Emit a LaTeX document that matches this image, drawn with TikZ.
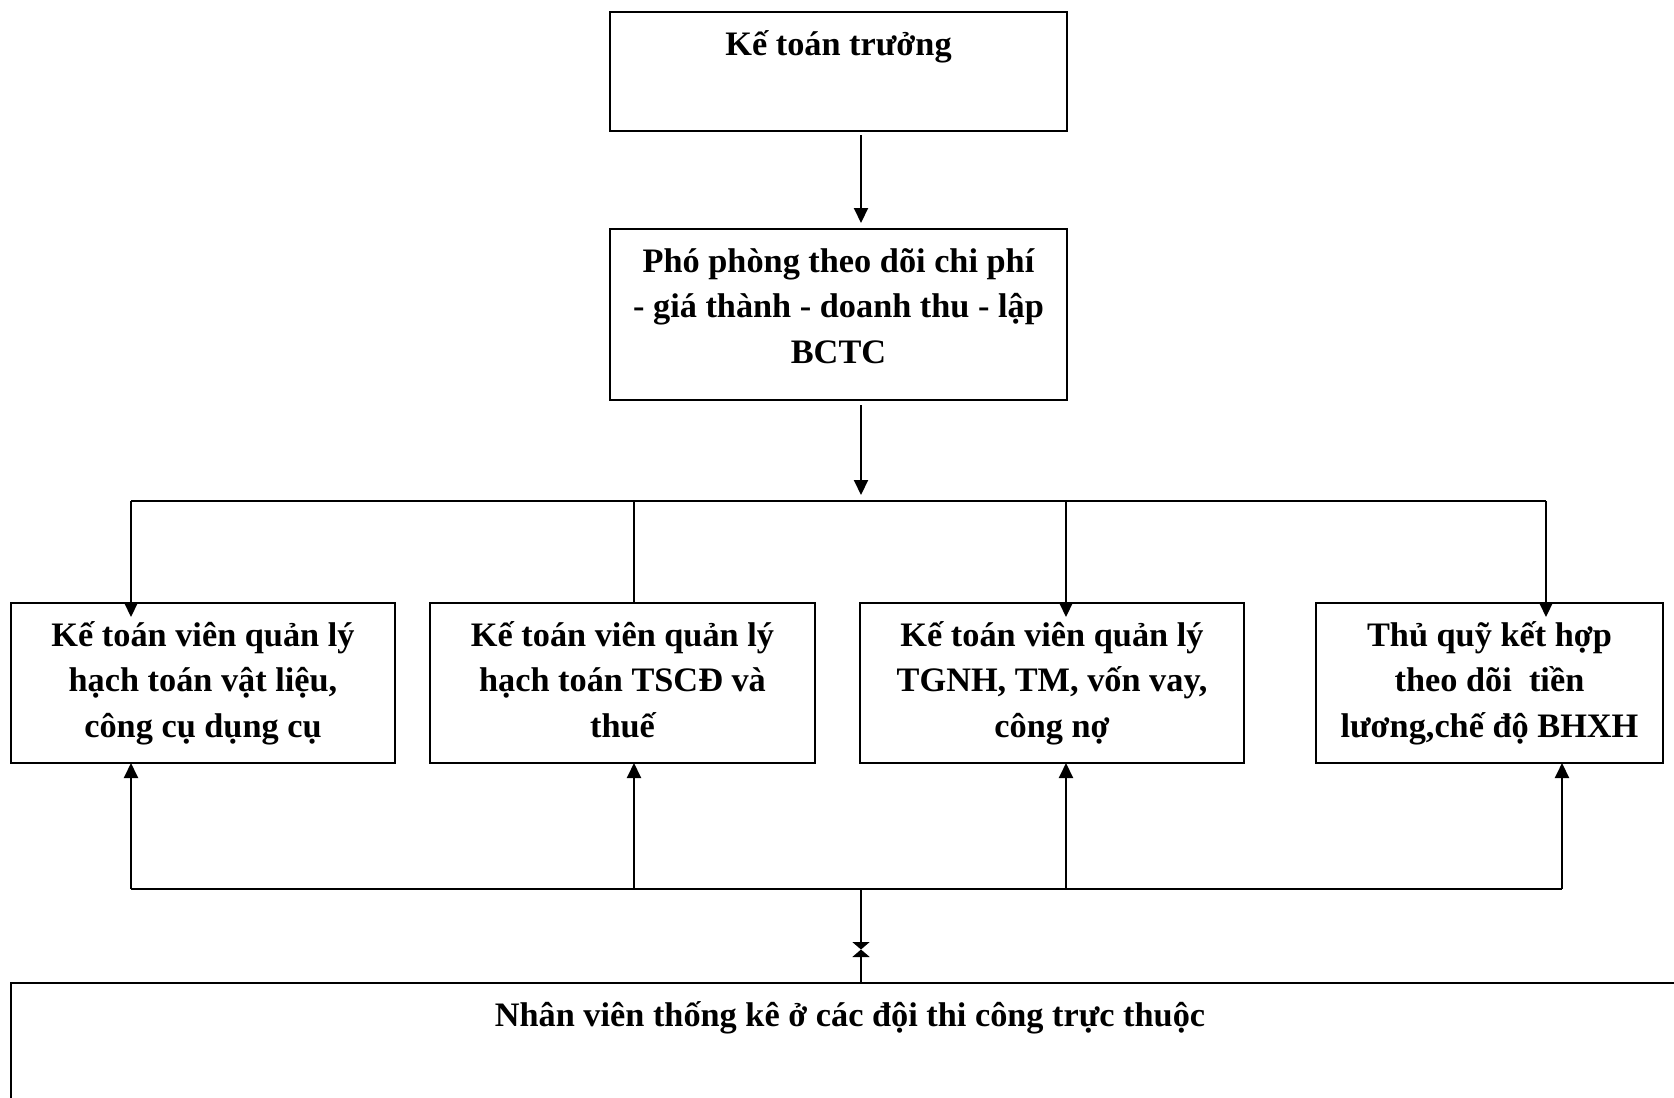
\documentclass[tikz,border=0pt]{standalone}
\usepackage{fontspec}
\setmainfont{Liberation Serif}
\usetikzlibrary{arrows.meta,calc}
\newcommand\lblstrut{\rule{0pt}{36pt}}
\begin{document}
\begin{tikzpicture}[x=1pt,y=-1pt,
  box/.style={draw,line width=2pt,inner sep=0pt,outer sep=0pt,anchor=north west},
  lbl/.style={anchor=north,inner sep=0pt,align=center,
    font=\fontsize{34.3pt}{45.5pt}\selectfont\bfseries},
  link/.style={line width=2pt},
  arr/.style={link,-{Triangle[length=15pt,width=14pt]}},
  tie/.style={link,-{Triangle[length=7.5pt,width=17pt]}}]
\useasboundingbox (0,0) rectangle (1674,1098);

% boxes
\node[box,minimum width=457pt,minimum height=119pt] (chief) at (610,12) {};
\node[box,minimum width=457pt,minimum height=171pt] (deputy) at (610,229) {};
\node[box,minimum width=384pt,minimum height=160pt] (mat) at (11,603) {};
\node[box,minimum width=385pt,minimum height=160pt] (asset) at (430,603) {};
\node[box,minimum width=384pt,minimum height=160pt] (cash) at (860,603) {};
\node[box,minimum width=347pt,minimum height=160pt] (fund) at (1316,603) {};
\begin{scope}
  \clip (0,0) rectangle (1674,1098);
  \node[box,minimum width=1700pt,minimum height=200pt] (staff) at (11,983) {};
\end{scope}

% texts
\node[lbl] (chiefT) at ($(chief.north)+(0,7)$) {\lblstrut Kế toán trưởng};
\node[lbl] (deputyT) at ($(deputy.north)+(0,7)$)
  {\lblstrut Phó phòng theo dõi chi phí\\- giá thành - doanh thu - lập\\BCTC};
\node[lbl] (matT) at ($(mat.north)+(0,7)$)
  {\lblstrut Kế toán viên quản lý\\hạch toán vật liệu,\\công cụ dụng cụ};
\node[lbl] (assetT) at ($(asset.north)+(0,7)$)
  {\lblstrut Kế toán viên quản lý\\hạch toán TSCĐ và\\thuế};
\node[lbl] (cashT) at ($(cash.north)+(0,7)$)
  {\lblstrut Kế toán viên quản lý\\TGNH, TM, vốn vay,\\công nợ};
\node[lbl] (fundT) at ($(fund.north)+(0,7)$)
  {\lblstrut Thủ quỹ kết hợp\\theo dõi~ tiền\\lương,chế độ BHXH};
\node[lbl] (staffT) at (850,990)
  {\lblstrut Nhân viên thống kê ở các đội thi công trực thuộc};

% connector points
\coordinate (busTop) at (861,501);
\coordinate (busTopL) at (131,501);
\coordinate (busTopR) at (1546,501);
\coordinate (busBot) at (861,889);
\coordinate (busBotL) at (131,889);
\coordinate (busBotR) at (1562,889);
\coordinate (tieMid) at (861,949.5);

% top chain
\draw[arr] ($(chief.south)+(22.5,4)$) -- ($(deputy.north)+(22.5,-6)$);
\draw[arr] ($(deputy.south)+(22.5,5)$) -- ($(busTop)+(0,-6)$);

% upper bus and drops
\draw[link] (busTopL) -- (busTopR);
\draw[arr] (busTopL) -- ($(busTopL |- mat.north)+(0,14)$);
\draw[link] (busTopL -| 634,0) -- (634,0 |- asset.north);
\draw[arr] (busTopL -| 1066,0) -- ($(1066,0 |- cash.north)+(0,14)$);
\draw[arr] (busTopR) -- ($(busTopR |- fund.north)+(0,14)$);

% lower bus and rises
\draw[link] (busBotL) -- (busBotR);
\draw[arr] (busBotL) -- (busBotL |- mat.south);
\draw[arr] (busBotL -| 634,0) -- (634,0 |- asset.south);
\draw[arr] (busBotL -| 1066,0) -- (1066,0 |- cash.south);
\draw[arr] (busBotR) -- (busBotR |- fund.south);

% link down to the staff box
\draw[tie] (busBot) -- (tieMid);
\draw[tie] (staff.north -| busBot) -- (tieMid);
\end{tikzpicture}
\end{document}
